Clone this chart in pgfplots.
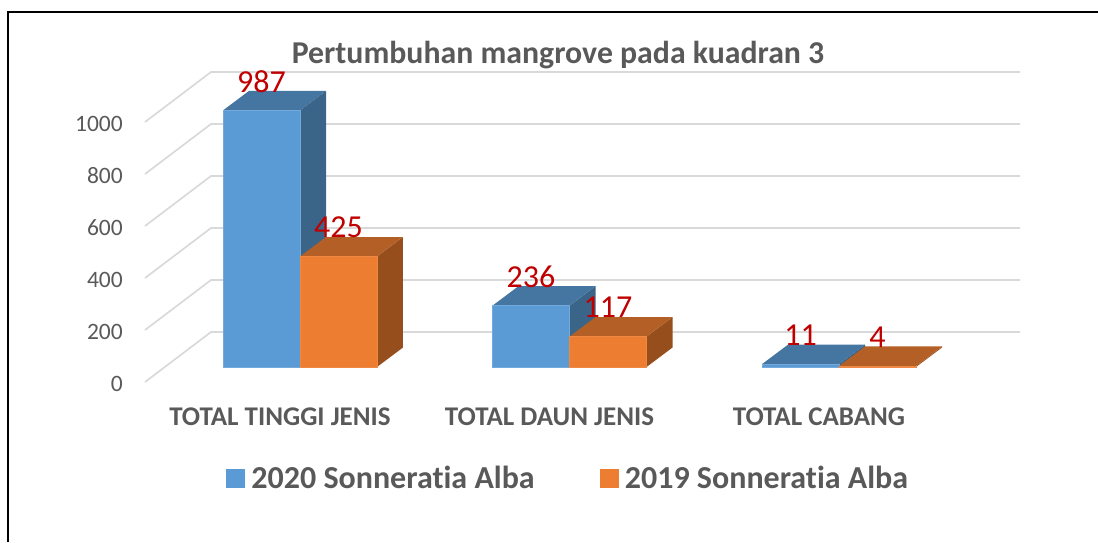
\documentclass[border=0pt]{standalone}
\usepackage{fontspec}
\setmainfont{Carlito}[Ligatures=CommonOff]
\usepackage{pgfplots}
\pgfplotsset{compat=1.18}
\definecolor{blueF}{HTML}{5B9BD5}
\definecolor{blueT}{HTML}{4575A1}
\definecolor{blueS}{HTML}{3A6589}
\definecolor{orF}{HTML}{ED7D31}
\definecolor{orT}{HTML}{B35F25}
\definecolor{orS}{HTML}{964F1C}
\definecolor{txt}{HTML}{595959}
\definecolor{gridc}{HTML}{D9D9D9}
\definecolor{lab}{HTML}{C00000}
% x0 x1 value front top side edge
\newcommand\threedbar[7]{%
  \pgfmathsetmacro\xa{#1+0.09647}%
  \pgfmathsetmacro\xb{#2+0.09647}%
  \pgfmathsetmacro\vb{#3+75}%
  \addplot[fill=#6,draw=none,forget plot] coordinates {(#2,0) (\xb,75) (\xb,\vb) (#2,#3)} --cycle;
  \addplot[fill=#5,draw=none,forget plot] coordinates {(#1,#3) (#2,#3) (\xb,\vb) (\xa,\vb)} --cycle;
  \addplot[fill=#4,draw=#7,line width=0.35pt,forget plot] coordinates {(#1,0) (#2,0) (#2,#3) (#1,#3)} --cycle;
}
\newcommand\wall[1]{%
  \pgfmathsetmacro\vf{#1-57.7}%
  \pgfmathsetmacro\vk{#1+134.6}%
  \addplot[gridc,line width=1.7pt,forget plot] coordinates {(-0.5751,\vf) (-0.3302,\vk) (2.6716,\vk)};
}
\begin{document}
\begin{tikzpicture}
\path[use as bounding box] (0pt,0pt) rectangle (1098pt,542pt);
\begin{axis}[
  name=main, at={(0pt,0pt)}, anchor=south west,
  scale only axis, width=1098pt, height=542pt,
  xmin=-1.11317, xmax=2.96104, ymin=-673.08, ymax=1411.54,
  hide axis, clip=false,
  /pgf/number format/assume math mode=true,
  title={Pertumbuhan mangrove pada kuadran 3},
  title style={at={(558/1098,1-61/542)},anchor=center,font=\fontsize{31.8}{36}\selectfont\bfseries,text=txt,inner sep=0pt},
  legend columns=2,
  legend style={at={(226/1098,1-478/542)},anchor=west,draw=none,fill=none,inner sep=0pt,
     font=\fontsize{32}{36}\selectfont\bfseries,text=txt,
     /tikz/every even column/.append style={column sep=63pt}},
  legend cell align=left,
  nodes near coords style={anchor=center,yshift=29pt,text=lab,font=\fontsize{32}{36}\selectfont,inner sep=0pt},
]
% frame
\addplot[black,line width=1.5pt,forget plot] coordinates {(-1.08349,-673.08) (-1.08349,1365.4) (2.96104,1365.4)};
% walls
\wall{0}\wall{200}\wall{400}\wall{600}\wall{800}\wall{1000}
% bars
\threedbar{-0.2857}{0}{987}{blueF}{blueT}{blueS}{blueF!85!white}
\threedbar{0}{0.2857}{425}{orF}{orT}{orS}{orF!90!white}
\threedbar{0.7143}{1}{236}{blueF}{blueT}{blueS}{blueF!85!white}
\threedbar{1}{1.2857}{117}{orF}{orT}{orS}{orF!90!white}
\threedbar{1.7143}{2}{11}{blueF}{blueT}{blueS}{blueF!85!white}
\threedbar{2}{2.2857}{4}{orF}{orT}{orS}{orF!90!white}
% data labels
\addplot[draw=none,forget plot,nodes near coords] coordinates {(-0.14285,987) (0.85715,236) (1.85715,11)};
\addplot[draw=none,forget plot,nodes near coords] coordinates {(0.14285,425) (1.14285,117) (2.14285,4)};
% legend
\addlegendimage{legend image code/.code={\fill[blueF] (0pt,-9pt) rectangle (18pt,9pt);\path[draw=none] (0pt,0pt) -- (23pt,0pt);}}
\addlegendentry{2020 Sonneratia Alba}
\addlegendimage{legend image code/.code={\fill[orF] (0pt,-9pt) rectangle (18pt,9pt);\path[draw=none] (0pt,0pt) -- (23pt,0pt);}}
\addlegendentry{2019 Sonneratia Alba}
\end{axis}
\begin{axis}[
  at={(145pt,160pt)}, anchor=south west,
  scale only axis, width=775pt, height=260pt,
  xmin=-0.5751, xmax=2.3006, ymin=0, ymax=1000,
  separate axis lines, x axis line style={draw=none}, y axis line style={draw=none},
  axis x line*=bottom, axis y line*=left,
  major tick length=0pt,
  xtick={0,1,2},
  xticklabels={TOTAL TINGGI JENIS,TOTAL DAUN JENIS,TOTAL CABANG},
  x tick label style={xshift=-20pt,anchor=center,yshift=-35pt,font=\fontsize{27}{30}\selectfont\bfseries,text=txt,inner sep=0pt},
  ytick={0,200,400,600,800,1000},
  /pgf/number format/assume math mode=true,
  /pgf/number format/1000 sep={},
  y tick label style={anchor=east,xshift=-22pt,yshift=-1.5pt,font=\fontsize{23.5}{26}\selectfont,text=txt,inner sep=0pt},
]
\addplot[draw=none] coordinates {(0,0) (2,1000)};
\end{axis}
\end{tikzpicture}
\end{document}
